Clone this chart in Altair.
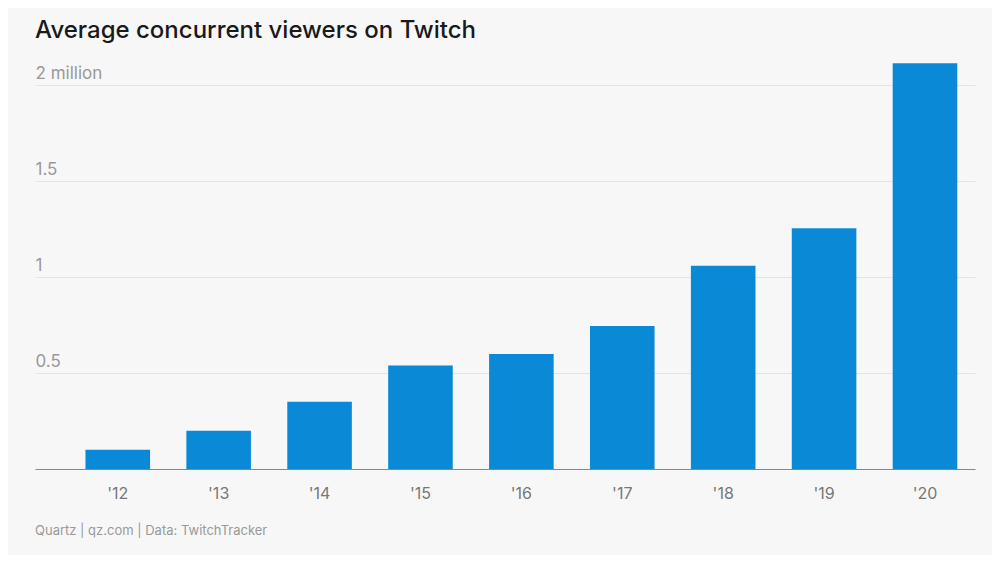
import pandas as pd
import altair as alt

years = ["'12", "'13", "'14", "'15", "'16", "'17", "'18", "'19", "'20"]
viewers_m = [0.10, 0.20, 0.35, 0.54, 0.60, 0.745, 1.06, 1.255, 2.115]

df = pd.DataFrame({"Year": years, "Viewers": viewers_m})

W, H = 940, 422
FONT = "Inter"

bars = alt.Chart(df).mark_bar(color="#0a8ad6").encode(
    x=alt.X("Year:N", sort=years, title=None,
            scale=alt.Scale(paddingInner=0.36, paddingOuter=0.338, align=0.74),
            axis=alt.Axis(labelFontSize=16, labelColor="#777", labelPadding=16,
                          ticks=False, domainColor="#888", labelAngle=0)),
    y=alt.Y("Viewers:Q", title=None,
            scale=alt.Scale(domain=[0, 2.2], nice=False),
            axis=alt.Axis(values=[0, 0.5, 1, 1.5, 2], orient="left",
                          labelAlign="left", labelBaseline="bottom", labelPadding=0,
                          labelOffset=-3, labelFontSize=17, labelColor="#999",
                          labelExpr="datum.value == 0 ? '' : datum.value == 2 ? '2 million' : format(datum.value, '~g')",
                          ticks=False, domain=False, gridColor="#e3e3e3")),
)

footer = alt.Chart(pd.DataFrame({"t": ["Quartz | qz.com | Data: TwitchTracker"]})).mark_text(
    align="left", baseline="middle", fontSize=13, color="#999", font=FONT
).encode(x=alt.value(0), y=alt.value(H + 62), text="t:N")

chart = (bars + footer).properties(
    width=W, height=H,
    title=alt.TitleParams("Average concurrent viewers on Twitch", anchor="start",
                          frame="group", fontSize=24, fontWeight=500,
                          color="#1a1a1a", font=FONT, offset=4),
    autosize=alt.AutoSizeParams(type="none"),
    padding={"left": 27, "top": 39, "right": 17, "bottom": 86},
).configure(background="#f7f7f7", font=FONT).configure_view(stroke=None)

chart.save("out.html", embed_options={"renderer": "svg", "actions": False})
